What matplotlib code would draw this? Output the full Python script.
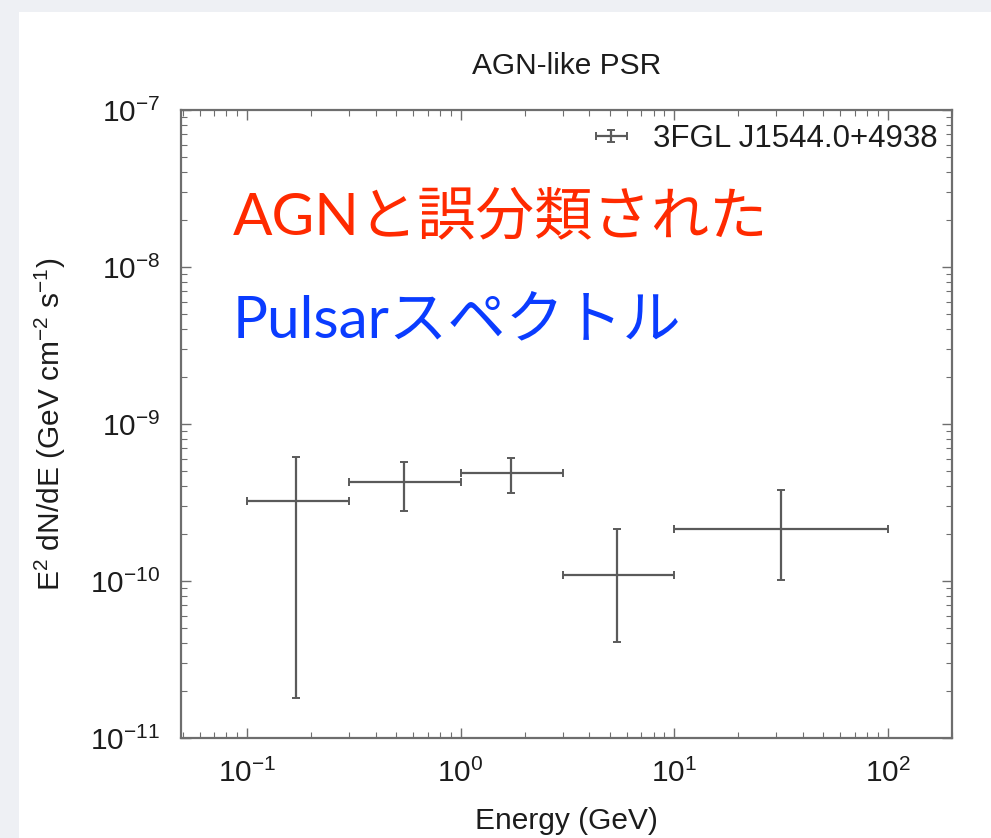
import matplotlib
matplotlib.use("Agg")
import matplotlib.pyplot as plt
from matplotlib.patches import Rectangle
from matplotlib.legend_handler import HandlerErrorbar
from matplotlib.container import ErrorbarContainer
import numpy as np

# Energy bins (GeV) and SED points
e_center = [0.17, 0.545, 1.72, 5.4, 31.6]
e_low = [0.1, 0.3, 1.0, 3.0, 10.0]
e_high = [0.3, 1.0, 3.0, 10.0, 100.0]
flux = [3.25e-10, 4.25e-10, 4.85e-10, 1.1e-10, 2.13e-10]
flux_up = [6.2e-10, 5.7e-10, 6.1e-10, 2.13e-10, 3.8e-10]
flux_lo = [1.8e-11, 2.78e-10, 3.65e-10, 4.1e-11, 1.02e-10]

title = "AGN-like PSR"
source_name = "3FGL J1544.0+4938"
note_red = "AGNと誤分類された"
note_blue = "Pulsarスペクトル"

plt.rcParams["axes.unicode_minus"] = False
plt.rcParams["mathtext.fontset"] = "custom"
plt.rcParams["mathtext.rm"] = "Liberation Sans"
plt.rcParams["mathtext.it"] = "Liberation Sans:italic"
plt.rcParams["font.family"] = "Liberation Sans"

W, H = 991, 838
fig = plt.figure(figsize=(W / 100, H / 100), dpi=100)
fig.patch.set_facecolor("#eef0f4")
fig.patches.append(Rectangle((19 / W, 0), 1 - 19 / W, 1 - 12 / H,
                             transform=fig.transFigure, facecolor="white",
                             edgecolor="none", zorder=-5))

ax = fig.add_axes([181 / W, 1 - 738 / H, (952 - 181) / W, (738 - 110) / H])
ax.set_zorder(1)
ax.set_facecolor("white")

x = np.array(e_center)
y = np.array(flux)
xerr = [x - np.array(e_low), np.array(e_high) - x]
yerr = [y - np.array(flux_lo), np.array(flux_up) - y]
ax.errorbar(x, y, xerr=xerr, yerr=yerr, fmt="none", ecolor="#5a5a5a",
            elinewidth=1.6, capsize=3, capthick=1.4, label=source_name)

ax.set_xscale("log")
ax.set_yscale("log")
ax.set_xlim(0.049, 200)
ax.set_ylim(1e-11, 1e-7)

text_color = "#1c1c1c"
fs = 21.5
for sp in ax.spines.values():
    sp.set_color("#6e6e6e")
    sp.set_linewidth(1.6)
ax.tick_params(which="both", direction="in", top=True, right=True,
               colors="#6e6e6e", labelcolor=text_color, labelsize=fs)
ax.tick_params(which="major", length=7, width=1.0, pad=15)
ax.tick_params(which="minor", length=4, width=0.8)
ax.xaxis.set_minor_locator(matplotlib.ticker.LogLocator(base=10, subs=np.arange(2, 10), numticks=20))
ax.yaxis.set_minor_locator(matplotlib.ticker.LogLocator(base=10, subs=np.arange(2, 10), numticks=20))

ax.set_title(title, fontsize=fs, color=text_color, pad=26)
ax.set_xlabel("Energy (GeV)", fontsize=fs, color=text_color, labelpad=14)
ax.set_ylabel(r"E$^2$ dN/dE (GeV cm$^{-2}$ s$^{-1}$)", fontsize=fs,
              color=text_color, labelpad=16)

leg = ax.legend(loc="upper right", frameon=False,
                prop=dict(size=22.5),
                handlelength=1.1, handletextpad=0.8, borderaxespad=0.05,
                handler_map={ErrorbarContainer: HandlerErrorbar(xerr_size=0.5, yerr_size=0.2)})
for t in leg.get_texts():
    t.set_color(text_color)

fam = ["Lato", "Noto Sans CJK JP"]
fig.text(233 / W, 1 - 234 / H, note_red, color="#ff2a00", fontsize=42,
         family=fam, ha="left", va="baseline", zorder=5)
fig.text(233 / W, 1 - 337 / H, note_blue, color="#0a3cff", fontsize=42,
         family=fam, ha="left", va="baseline", zorder=5)

fig.savefig("out.png", dpi=100, facecolor=fig.get_facecolor())
